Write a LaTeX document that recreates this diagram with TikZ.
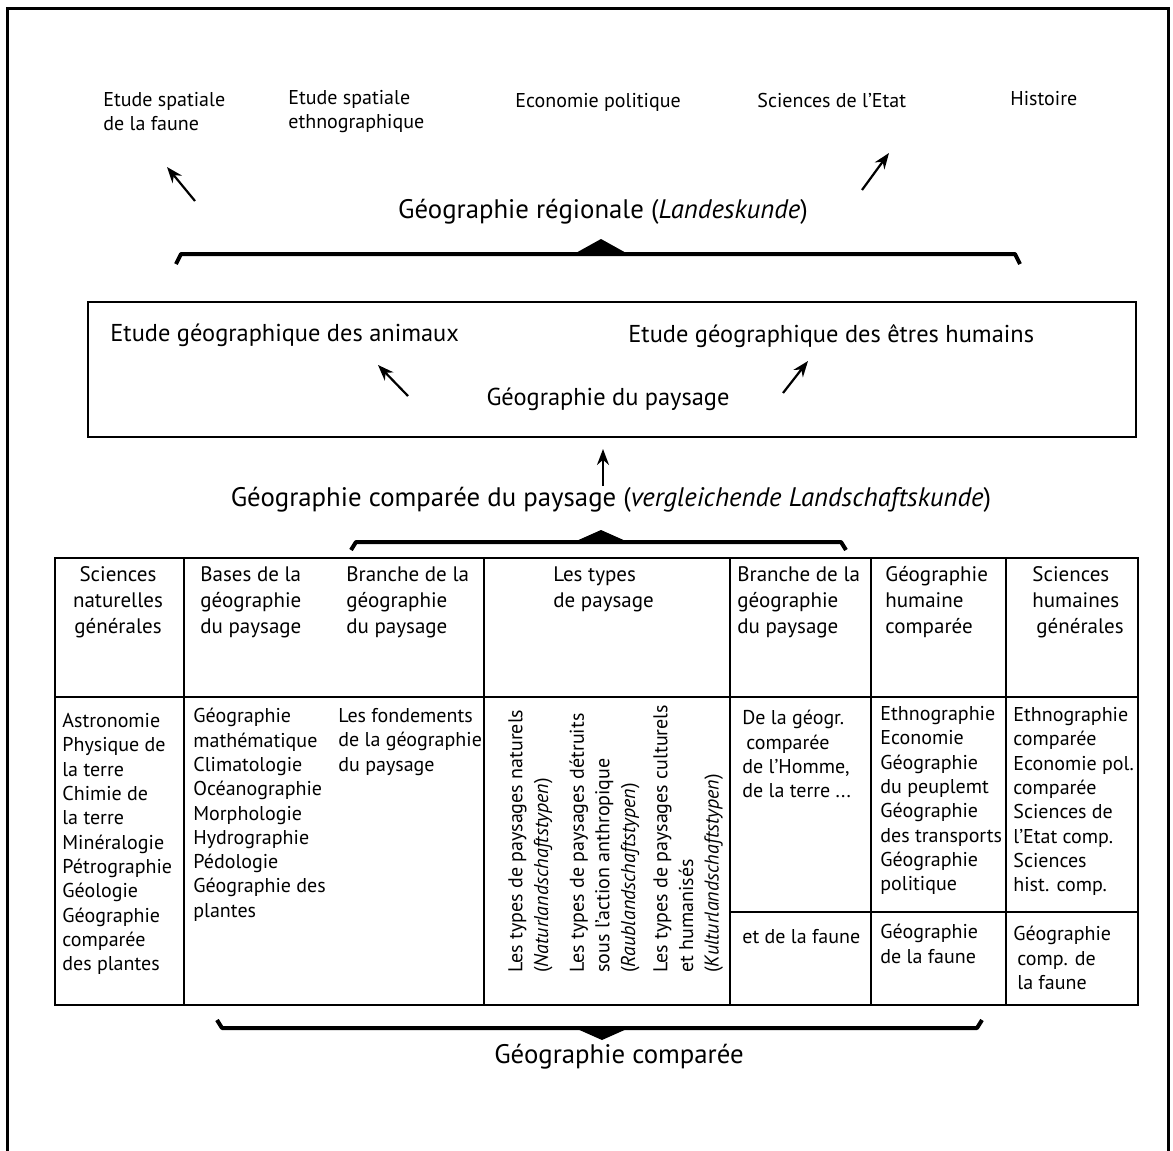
\documentclass[tikz,border=0pt]{standalone}
\usepackage{fontspec}
\setmainfont{PT Sans}
\usetikzlibrary{arrows.meta}
\tikzset{
  >={Stealth[length=8pt,width=6pt]},
  arr/.style={->,line width=1.1pt},
  frame/.style={line width=1.5pt},
  grid/.style={line width=1.2pt},
  brace/.style={line width=2pt,line join=round},
  toplbl/.style={anchor=north west,inner sep=0pt,align=left,font=\fontsize{10}{12}\selectfont},
  title/.style={inner sep=0pt,font=\fontsize{13.4}{16}\selectfont},
  boxtxt/.style={inner sep=0pt,font=\fontsize{12.2}{15}\selectfont},
  head/.style={anchor=north west,inner sep=0pt,align=left,font=\fontsize{10.5}{13}\selectfont},
  cell/.style={anchor=north west,inner sep=0pt,align=left,font=\fontsize{10}{12.15}\selectfont},
  types/.style={anchor=north west,inner sep=0pt,align=left,rotate=90,font=\fontsize{10}{12.8}\selectfont}
}
% horizontal bracket: x1, x2, y, x of the peak, hook (+ down, - up)
\newcommand{\hbrace}[5]{%
  \draw[brace] (#1,{#3+(#5)}) -- (#1+5,#3) -- (#2-5,#3) -- (#2,{#3+(#5)});
  \fill (#4-27,#3) -- (#4,{#3-1.5*(#5)}) -- (#4+27,#3) -- cycle;}

\begin{document}
\begin{tikzpicture}[x=0.5pt,y=-0.5pt]
  \useasboundingbox (0,0) rectangle (1173,1151);
  \draw[frame] (7,1151) -- (7,8) -- (1168,8) -- (1168,1151);

  % regional level
  \node[toplbl] (faune) at (103,92) {Etude spatiale\\de la faune};
  \node[toplbl] (ethno) at (288,90) {Etude spatiale\\ethnographique};
  \node[toplbl] (econ) at (515,93) {Economie politique};
  \node[toplbl] (etat) at (757,93) {Sciences de l'Etat};
  \node[toplbl] (hist) at (1010,91) {Histoire};
  \node[title] (regionale) at (603,212) {Géographie régionale (\textit{Landeskunde})};
  \coordinate (r1) at (195,201);
  \coordinate (r2) at (167,167);
  \coordinate (r3) at (862,190);
  \coordinate (r4) at (889,153);
  \draw[arr] (r1) -- (r2);
  \draw[arr] (r3) -- (r4);
  \hbrace{176}{1020}{254}{601}{10}

  % landscape level
  \node[draw,line width=1pt,minimum width=524pt,minimum height=67.5pt,inner sep=0pt] (box) at (612,369.5) {};
  \node[boxtxt,anchor=west] (animaux) at (110,335) {Etude géographique des animaux};
  \node[boxtxt,anchor=west] (humains) at (628,336) {Etude géographique des êtres humains};
  \node[boxtxt] (paysage) at (608,399) {Géographie du paysage};
  \coordinate (p1) at (408,396);
  \coordinate (p2) at (378,365);
  \coordinate (p3) at (783,393);
  \coordinate (p4) at (808,361);
  \draw[arr] (p1) -- (p2);
  \draw[arr] (p3) -- (p4);

  \node[title] (compPays) at (611,500) {Géographie comparée du paysage (\textit{vergleichende Landschaftskunde})};
  \coordinate (up) at (603,486);
  \draw[arr,shorten >=5.5pt] (up) -- (up |- box.south);
  \hbrace{351}{846}{542}{601}{8}

  % table
  \draw[grid] (55,558) rectangle (1138,1005);
  \draw[grid] (55,697) -- (1138,697)
    (184,558) -- (184,1005) (484,558) -- (484,1005) (730,558) -- (730,1005)
    (871,558) -- (871,1005) (1006,558) -- (1006,1005)
    (730,912) -- (1138,912);

  \node[head,anchor=north,align=center] (natHd) at (118,566) {Sciences\\naturelles\\générales};
  \node[head] (basesHd) at (200,566) {Bases de la\\géographie\\du paysage};
  \node[head] (brancheHd) at (346,566) {Branche de la\\géographie\\du paysage};
  \node[head] (typesHd) at (553,566) {Les types\\de paysage};
  \node[head] (branche2Hd) at (737,566) {Branche de la\\géographie\\du paysage};
  \node[head] (humHd) at (885,566) {Géographie\\humaine\\comparée};
  \node[head] (sciHd) at (1032,566) {Sciences\\humaines\\\hspace*{2pt}générales};

  \node[cell] (nat) at (62,713) {Astronomie\\Physique de\\la terre\\Chimie de\\la terre\\Minéralogie\\Pétrographie\\Géologie\\Géographie\\comparée\\des plantes};
  \node[cell] (bases) at (193,708) {Géographie\\mathématique\\Climatologie\\Océanographie\\Morphologie\\Hydrographie\\Pédologie\\Géographie des\\plantes};
  \node[cell] (fond) at (338,708) {Les fondements\\de la géographie\\du paysage};

  \node[types] (natur) at (508,973) {Les types de paysages naturels\\(\textit{Naturlandschaftstypen})};
  \node[types] (raub) at (569,973) {Les types de paysages détruits\\sous l'action anthropique\\(\textit{Raublandschaftstypen})};
  \node[types] (kultur) at (653,973) {Les types de paysages culturels\\et humanisés\\(\textit{Kulturlandschaftstypen})};

  \node[cell] (homme) at (742,710) {De la géogr.\\\hspace*{2pt}comparée\\de l'Homme,\\de la terre ...};
  \node[cell] (etFaune) at (742,929) {et de la faune};
  \node[cell] (humGeo) at (880,706) {Ethnographie\\Economie\\Géographie\\du peuplemt\\Géographie\\des transports\\Géographie\\politique};
  \node[cell] (humFaune) at (880,924) {Géographie\\de la faune};
  \node[cell] (sciComp) at (1013,707) {Ethnographie\\comparée\\Economie pol.\\comparée\\Sciences de\\l'Etat comp.\\Sciences\\hist. comp.};
  \node[cell] (sciFaune) at (1013,926) {Géographie\\\hspace*{2pt}comp. de\\\hspace*{2pt}la faune};

  \hbrace{217}{982}{1028}{602}{-8}
  \node[title] (comparee) at (619,1057) {Géographie comparée};
\end{tikzpicture}
\end{document}
